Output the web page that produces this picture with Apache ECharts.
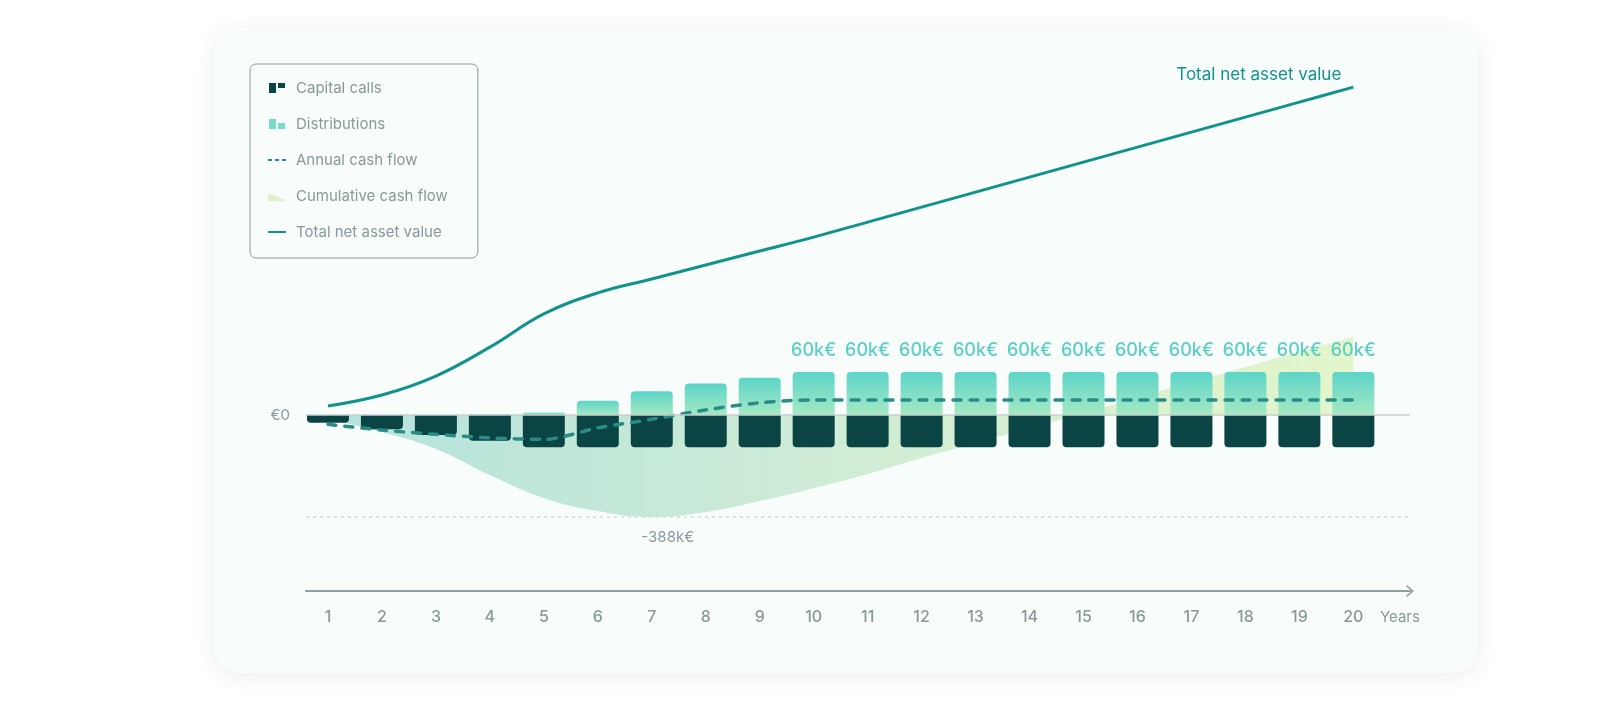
<!DOCTYPE html>
<html>
<head>
<meta charset="utf-8">
<script src="https://cdn.jsdelivr.net/npm/echarts@6.0.0/dist/echarts.min.js"></script>
<style>
html, body { margin: 0; padding: 0; background: #ffffff; }
#wrap { position: relative; width: 1618px; height: 704px; overflow: hidden; }
#card { position: absolute; left: 214px; top: 28px; width: 1264px; height: 645px; border-radius: 26px; background: #f8fcfb; box-shadow: 0 3px 22px rgba(30, 60, 60, 0.09); }
#chart { position: absolute; left: 0; top: 0; width: 1618px; height: 704px; }
</style>
</head>
<body>
<div id="wrap"><div id="card"></div><div id="chart"></div></div>
<script>
var years = [1, 2, 3, 4, 5, 6, 7, 8, 9, 10, 11, 12, 13, 14, 15, 16, 17, 18, 19, 20];
// k€ per year
var capitalCalls = [-11, -20, -28, -36, -45, -45, -45, -45, -45, -45, -45, -45, -45, -45, -45, -45, -45, -45, -45, -45];
var distributions = [0, 0, 0, 1.5, 3, 20, 33, 44, 52, 60, 60, 60, 60, 60, 60, 60, 60, 60, 60, 60];
var annualCashFlow = [-13, -21, -27, -32, -34, -18, -6, 7, 17, 21, 21, 21, 21, 21, 21, 21, 21, 21, 21, 21];
var cumulativeCashFlow = [-15, -65, -129, -228, -315, -365, -388, -369, -327, -278, -224, -163, -106, -49, 8, 65, 125, 182, 240, 296];
var totalNav = [34, 76, 148, 258, 384, 464, 517, 570, 623, 676, 733, 790, 847, 904, 961, 1018, 1075, 1132, 1189, 1246];

var font = 'Inter';
var grey = '#869a98';

function pairs(vals) {
    return years.map(function (y, i) { return [y, vals[i]]; });
}

var dom = document.getElementById('chart');
var myChart = echarts.init(dom);

option = {
    backgroundColor: 'transparent',
    animation: false,
    legend: {
        orient: 'vertical',
        left: 250,
        top: 64,
        padding: [14, 30, 16, 18],
        itemGap: 16,
        itemWidth: 18,
        itemHeight: 10,
        borderColor: '#8a9c99',
        borderWidth: 1,
        borderRadius: 6,
        selectedMode: false,
        textStyle: { color: grey, fontSize: 15, fontFamily: font, lineHeight: 20, padding: [0, 0, 0, 5] },
        data: [
            { name: 'Capital calls', icon: 'path://M0,0H7V10H0ZM9,0H16V5H9Z', itemStyle: { color: '#0b4444' } },
            { name: 'Distributions', icon: 'path://M0,0H7V10H0ZM9,4H16V10H9Z', itemStyle: { color: '#79dbc7' } },
            { name: 'Annual cash flow', icon: 'path://M0,0M0,10M0,4H4V6H0ZM7,4H11V6H7ZM14,4H18V6H14Z', itemStyle: { color: '#2a8c87' } },
            { name: 'Cumulative cash flow', icon: 'path://M0,0M0,3C7,4 12,7 18,10L0,10Z', itemStyle: { color: '#dcf1c8' } },
            { name: 'Total net asset value', icon: 'path://M0,0M0,10M0,4H18V6H0Z', itemStyle: { color: '#12928d' } }
        ]
    },
    grid: { left: 306, right: 208, top: 55, bottom: 113, outerBoundsMode: 'none' },
    xAxis: {
        type: 'value',
        min: 0.593,
        max: 21.05,
        axisLine: {
            show: true,
            onZero: false,
            lineStyle: { color: '#8fa19f', width: 2 },
            symbol: ['none', 'path://M6,0L12,7L10.8,8L6,2.4L1.2,8L0,7Z'],
            symbolSize: [12, 8]
        },
        axisTick: { show: false },
        splitLine: { show: false },
        axisLabel: { customValues: years, margin: 18, color: grey, fontSize: 16, fontWeight: 500, fontFamily: font },
        name: 'Years',
        nameLocation: 'end',
        nameGap: -30,
        nameTextStyle: { color: grey, fontSize: 15, fontFamily: font, align: 'left', verticalAlign: 'top', padding: [19, 0, 0, 0] }
    },
    yAxis: [
        { type: 'value', show: false, min: -245.6, max: 502.3, splitLine: { show: false } },
        { type: 'value', show: false, min: -668.8, max: 1368, splitLine: { show: false } }
    ],
    series: [
        {
            name: 'Cumulative cash flow',
            type: 'line',
            yAxisIndex: 1,
            z: 1,
            smooth: 0.45,
            symbol: 'none',
            data: pairs(cumulativeCashFlow),
            lineStyle: { width: 0 },
            itemStyle: { color: '#dcf1c8' },
            areaStyle: {
                opacity: 1,
                color: new echarts.graphic.LinearGradient(0, 0, 1, 0, [
                    { offset: 0, color: '#b4e3dc' },
                    { offset: 0.45, color: '#cdebd6' },
                    { offset: 1, color: '#e3f5cb' }
                ])
            },
            markLine: {
                silent: true,
                symbol: 'none',
                data: [
                    { yAxis: 0, lineStyle: { color: '#c6d0ce', width: 1.5, type: 'solid' },
                      label: { show: true, position: 'start', distance: 16, formatter: '€0', color: grey, fontSize: 15, fontFamily: font } },
                    { type: 'min', lineStyle: { color: '#d2dbd9', width: 1.5, type: [3, 4] }, label: { show: false } }
                ]
            },
            markPoint: {
                silent: true,
                symbolSize: 0,
                data: [{ type: 'min' }],
                label: { show: true, position: 'bottom', distance: 13, offset: [16, 0], formatter: '-388k€', color: grey, fontSize: 15, fontFamily: font }
            }
        },
        {
            name: 'Capital calls',
            type: 'bar',
            stack: 'flow',
            z: 2,
            barWidth: 42,
            data: pairs(capitalCalls),
            itemStyle: { color: '#0b4444', borderRadius: [0, 0, 4, 4] }
        },
        {
            name: 'Distributions',
            type: 'bar',
            stack: 'flow',
            z: 2,
            barWidth: 42,
            data: pairs(distributions),
            itemStyle: {
                borderRadius: [4, 4, 0, 0],
                color: new echarts.graphic.LinearGradient(0, 0, 0, 1, [
                    { offset: 0, color: '#5cd4c9' },
                    { offset: 1, color: '#a5e9c2' }
                ])
            },
            label: {
                show: true,
                position: 'top',
                distance: 12,
                color: '#5ccfc4',
                fontSize: 18,
                fontWeight: 500,
                fontFamily: font,
                formatter: function (p) { return p.value[1] >= 60 ? p.value[1] + 'k€' : ''; }
            }
        },
        {
            name: 'Annual cash flow',
            type: 'line',
            z: 3,
            smooth: 0.3,
            symbol: 'none',
            data: pairs(annualCashFlow),
            itemStyle: { color: '#2a8c87' },
            lineStyle: { color: '#2a8c87', width: 3.5, type: [8, 9], cap: 'round' }
        },
        {
            name: 'Total net asset value',
            type: 'line',
            yAxisIndex: 1,
            z: 3,
            smooth: 0.4,
            symbol: 'none',
            data: pairs(totalNav),
            itemStyle: { color: '#12928d' },
            lineStyle: { color: '#12928d', width: 3 },
            endLabel: {
                show: true,
                formatter: 'Total net asset value',
                color: '#12928d',
                fontSize: 17,
                fontFamily: font,
                align: 'right',
                verticalAlign: 'bottom',
                distance: 0,
                offset: [-12, -4]
            }
        }
    ]
};

if (option && typeof option === "object") {
    myChart.setOption(option, true);
}
</script>
</body>
</html>
